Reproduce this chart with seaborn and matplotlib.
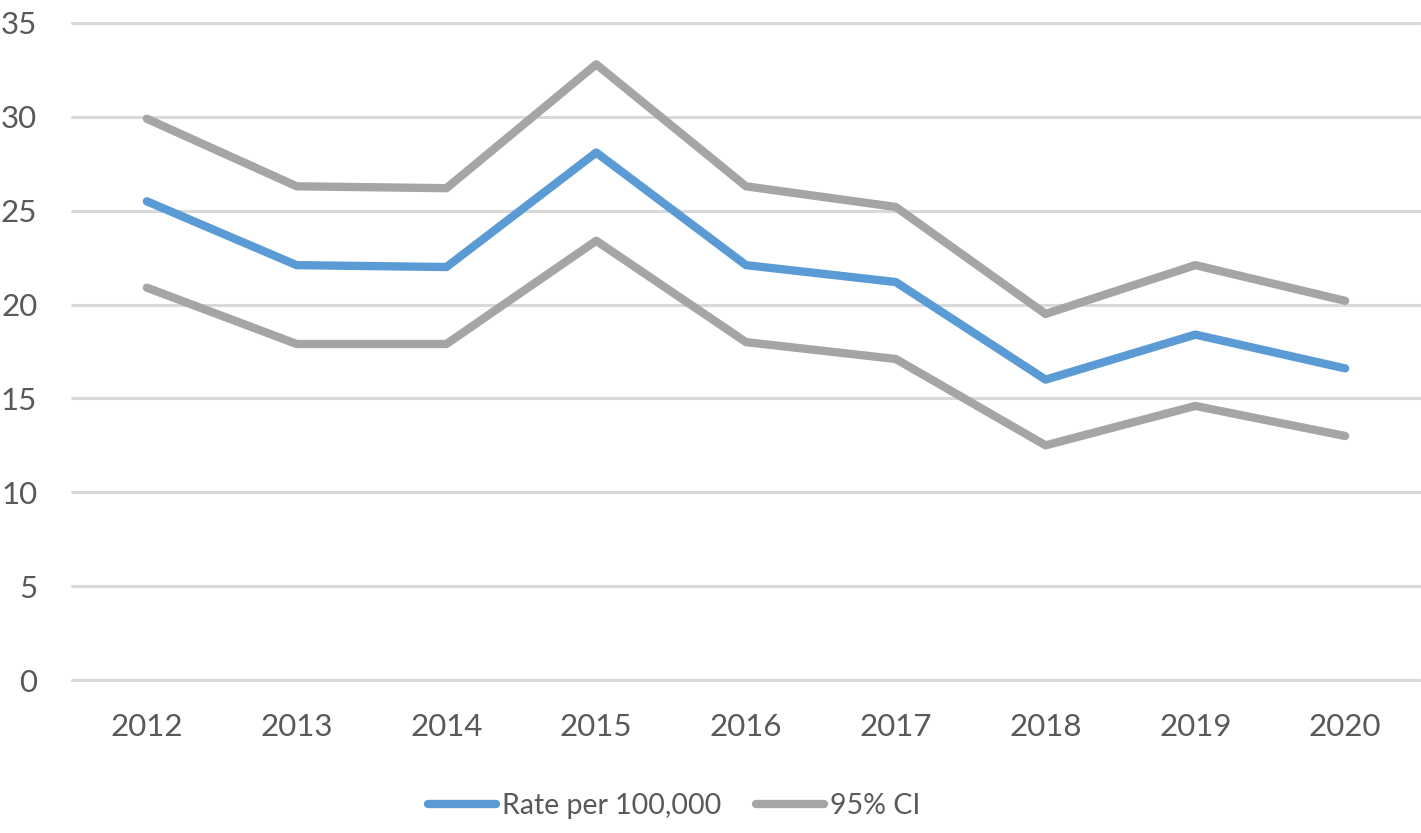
import matplotlib
matplotlib.use("Agg")
import matplotlib.pyplot as plt
import seaborn as sns
import pandas as pd
from matplotlib.lines import Line2D

years = [2012, 2013, 2014, 2015, 2016, 2017, 2018, 2019, 2020]
rate = [25.5, 22.1, 22.0, 28.1, 22.1, 21.2, 16.0, 18.4, 16.6]
ci_upper = [29.9, 26.3, 26.2, 32.8, 26.3, 25.2, 19.5, 22.1, 20.2]
ci_lower = [20.9, 17.9, 17.9, 23.4, 18.0, 17.1, 12.5, 14.6, 13.0]
y_ticks = [0, 5, 10, 15, 20, 25, 30, 35]

sns.set_theme(style="white")
plt.rcParams['font.family'] = ['Lato', 'DejaVu Sans']

BLUE = "#5b9bd5"
GRAY = "#a5a5a5"
TXT = "#595959"

fig = plt.figure(figsize=(14.21, 8.33), dpi=100)
ax = fig.add_axes([72/1421, 1-680/833, (1420-72)/1421, (680-23)/833])

df = pd.DataFrame({"year": years, "rate": rate, "upper": ci_upper, "lower": ci_lower})
lw = 6
sns.lineplot(data=df, x="year", y="upper", ax=ax, color=GRAY, lw=lw, solid_capstyle="round", solid_joinstyle="round", zorder=3)
sns.lineplot(data=df, x="year", y="lower", ax=ax, color=GRAY, lw=lw, solid_capstyle="round", solid_joinstyle="round", zorder=3)
sns.lineplot(data=df, x="year", y="rate", ax=ax, color=BLUE, lw=lw, solid_capstyle="round", solid_joinstyle="round", zorder=4)

ax.set_xlim(years[0]-0.5, years[-1]+0.5)
ax.set_ylim(0, 35)
ax.set_yticks(y_ticks)
ax.set_xticks(years)
ax.set_xticklabels([str(y) for y in years])
ax.set_xlabel("")
ax.set_ylabel("")
for y in y_ticks:
    ax.axhline(y, color="#d9d9d9", lw=2.2, zorder=1, clip_on=False)
for s in ax.spines.values():
    s.set_visible(False)
ax.tick_params(axis="both", length=0, labelsize=22.5, labelcolor=TXT)
ax.tick_params(axis="y", pad=25)
ax.tick_params(axis="x", pad=24)

handles = [Line2D([0], [0], color=BLUE, lw=lw, solid_capstyle="round"),
           Line2D([0], [0], color=GRAY, lw=lw, solid_capstyle="round")]
fig.legend(handles, ["Rate per 100,000", "95% CI"], loc="center", bbox_to_anchor=(674/1421, 1-806/833),
           ncol=2, frameon=False, fontsize=20.5, labelcolor=TXT, handlelength=2.4, handletextpad=0.2,
           columnspacing=1.2)

fig.savefig("out.png", dpi=100)
